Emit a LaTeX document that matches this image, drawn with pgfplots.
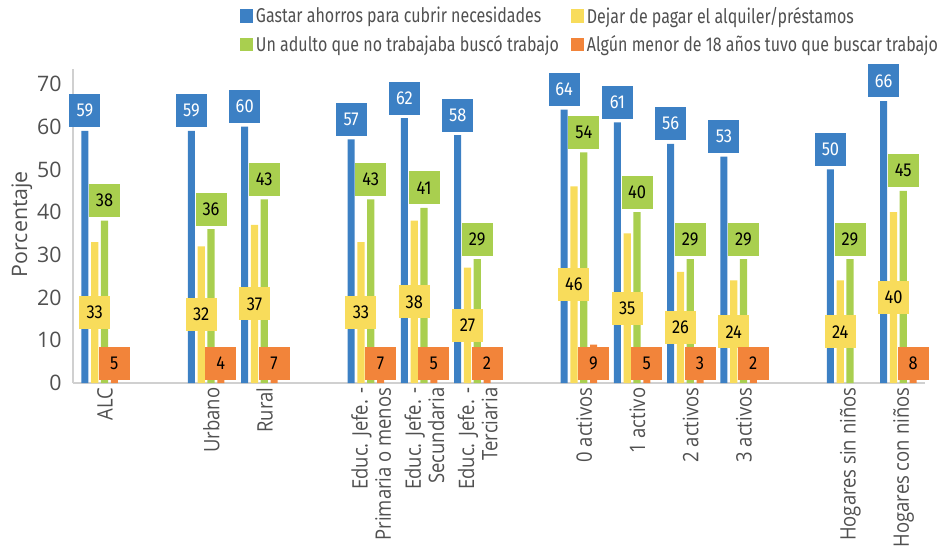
\documentclass[border=0pt]{standalone}
\usepackage{pgfplots}
\pgfplotsset{compat=1.18}
\usepackage{pgfplotstable}
\usepackage{fontspec}
\setmainfont{Open Sans}
\newfontfamily\legfont[FakeStretch=0.8]{Fira Sans}
\newfontfamily\labfont[FakeStretch=0.88]{Fira Sans}
\newfontfamily\catfont[FakeStretch=0.865]{Open Sans}

\definecolor{cBlue}{HTML}{3C80C4}
\definecolor{cYellow}{HTML}{F8DC5B}
\definecolor{cGreen}{HTML}{A9CF4F}
\definecolor{cOrange}{HTML}{F2843A}
\definecolor{txtgray}{HTML}{505050}
\definecolor{axgray}{HTML}{D0D0D0}

\tikzset{lab/.style={inner sep=0pt, minimum width=23.25pt, minimum height=24.75pt,
      font=\labfont\fontsize{14}{16}\selectfont}}

% x = slot position (gaps between groups), b/y/g = blue/yellow/green series
\pgfplotstableread{
x  b  y  g
0  59 33 38
2  59 32 36
3  60 37 43
5  57 33 43
6  62 38 41
7  58 27 29
9  64 46 54
10 61 35 40
11 56 26 29
12 53 24 29
14 50 24 29
15 66 40 45
}\datatab

% orange series (no value for "Hogares sin ninos")
\pgfplotstableread{
x  o
0  5
2  4
3  7
5  7
6  5
7  2
9  9
10 5
11 3
12 2
15 8
}\orangetab

\begin{document}
\begin{tikzpicture}
\useasboundingbox (-54.75pt,-125.25pt) rectangle (655.5pt,287.25pt);
\begin{axis}[
    at={(0,0)}, anchor=south west,
    scale only axis,
    width=639pt, height=235.5pt,
    xmin=-0.5, xmax=15.5,
    ymin=0, ymax=73.5,
    clip=false,
    axis x line*=bottom,
    axis y line*=left,
    axis line style={axgray, line width=0.8pt, -},
    major tick length=0pt,
    ytick={0,10,...,70},
    xtick={0,2,3,5,6,7,9,10,11,12,14,15},
    xticklabels={ALC, Urbano, Rural,
      {Educ. Jefe. -\\Primaria o menos},
      {Educ. Jefe. -\\Secundaria},
      {Educ. Jefe. -\\Terciaria},
      0 activos, 1 activo, 2 activos, 3 activos,
      Hogares sin niños, Hogares con niños},
    /pgf/number format/assume math mode=true,
    yticklabel style={font=\fontsize{16}{18}\selectfont, text=txtgray, xshift=-5pt},
    xticklabel style={font=\catfont\fontsize{16}{17.5}\selectfont, text=txtgray,
      rotate=90, anchor=east, align=right, yshift=-4pt},
    ylabel={Porcentaje},
    every axis y label/.style={at={(axis description cs:-0.0599,0.506)},
      rotate=90, anchor=center, font=\fontsize{16}{18}\selectfont, text=txtgray},
    legend columns=2,
    legend cell align=left,
    legend style={at={(axis description cs:0.191,1.215)}, anchor=north west,
      draw=none, fill=none, font=\legfont\fontsize{15}{17}\selectfont,
      text=txtgray, row sep=3.5pt,
      /tikz/every even column/.append style={column sep=7pt}},
    legend image code/.code={\path[#1,draw=none] (0pt,-5pt) rectangle (10pt,5pt);},
    bar width=5.3pt,
]
% bars
\addplot[ybar, bar shift=-11pt, fill=cBlue, draw=none,
  nodes near coords,
  every node near coord/.append style={lab, fill=cBlue, text=white, anchor=south,
    xshift=-11pt, yshift=2.5pt}]
  table[x=x, y=b] {\datatab};
\addlegendentry{Gastar ahorros para cubrir necesidades}
\addplot[ybar, bar shift=-3.67pt, fill=cYellow, draw=none]
  table[x=x, y=y] {\datatab};
\addlegendentry{Dejar de pagar el alquiler/préstamos}
\addplot[ybar, bar shift=3.67pt, fill=cGreen, draw=none,
  nodes near coords,
  every node near coord/.append style={lab, fill=cGreen, text=black, anchor=south,
    xshift=3.67pt, yshift=2.5pt}]
  table[x=x, y=g] {\datatab};
\addlegendentry{Un adulto que no trabajaba buscó trabajo}
\addplot[ybar, bar shift=11pt, fill=cOrange, draw=none]
  table[x=x, y=o] {\orangetab};
\addlegendentry{Algún menor de 18 años tuvo que buscar trabajo}
% yellow labels: centred in the bar
\addplot[draw=none, mark=none, forget plot, point meta=explicit,
  nodes near coords,
  every node near coord/.append style={lab, fill=cYellow, text=black, anchor=center, xshift=-3.67pt}]
  table[x=x, y expr=\thisrow{y}/2, meta=y] {\datatab};
% orange labels: at the base of the bar
\addplot[draw=none, mark=none, forget plot, point meta=explicit,
  nodes near coords,
  every node near coord/.append style={lab, fill=cOrange, text=black, anchor=south, xshift=11pt, yshift=2.25pt}]
  table[x=x, y expr=0, meta=o] {\orangetab};
\end{axis}
\end{tikzpicture}
\end{document}
